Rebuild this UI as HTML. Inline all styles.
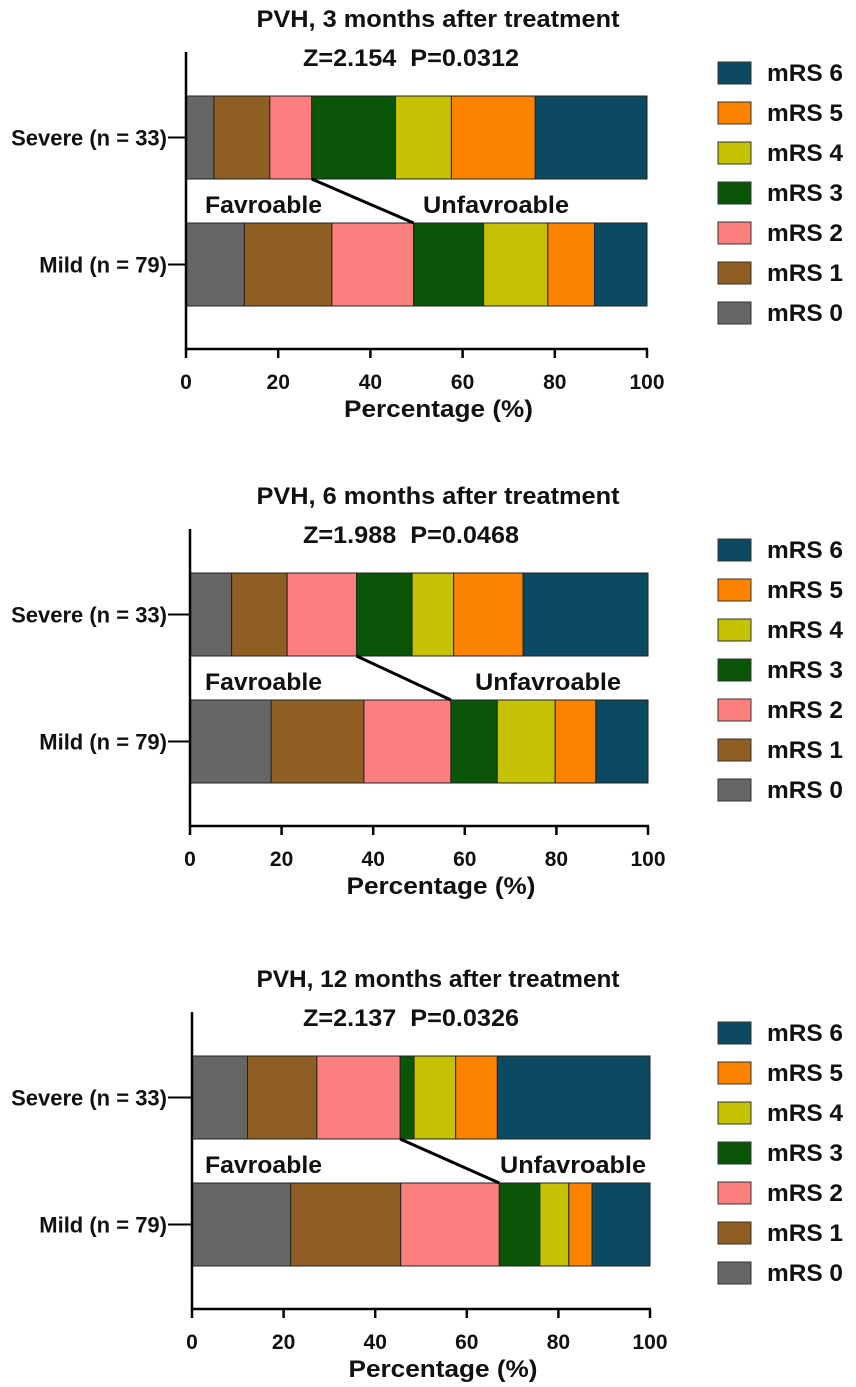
<!DOCTYPE html>
<html><head><meta charset="utf-8"><style>
html,body{margin:0;padding:0;background:#fff;}
svg{display:block;font-family:"Liberation Sans",Arial,sans-serif;font-weight:bold;}
</style></head><body>
<svg id="chart" width="856" height="1387" viewBox="0 0 856 1387" xmlns="http://www.w3.org/2000/svg"></svg>
<script>
const panelTitles = ["PVH, 3 months after treatment","PVH, 6 months after treatment","PVH, 12 months after treatment"];
const panelStats = ["Z=2.154\u00a0\u00a0P=0.0312","Z=1.988\u00a0\u00a0P=0.0468","Z=2.137\u00a0\u00a0P=0.0326"];
const groups = ["Severe (n = 33)","Mild (n = 79)"];
const mrsLabels = ["mRS 0","mRS 1","mRS 2","mRS 3","mRS 4","mRS 5","mRS 6"];
const severe3 = [2,4,3,6,4,6,8];
const mild3 = [10,15,14,12,11,8,9];
const severe6 = [3,4,5,4,3,5,9];
const mild6 = [14,16,15,8,10,7,9];
const severe12 = [4,5,6,1,3,3,11];
const mild12 = [17,19,17,7,5,4,10];
const ticks = [0,20,40,60,80,100];
const colors = ["#666666","#8f5e22","#fb7f7f","#0a5508","#c4c202","#fb8300","#0b4a60"];

const svg = document.getElementById('chart');
const NS = "http://www.w3.org/2000/svg";
function mk(tag, attrs, parent){const e=document.createElementNS(NS,tag);for(const k in attrs)e.setAttribute(k,attrs[k]);(parent||svg).appendChild(e);return e;}
function txt(s, attrs, parent){const e=mk('text',attrs,parent);e.textContent=s;return e;}

const layouts = [
 {dy:0, x0:186, x1:647},
 {dy:477, x0:190, x1:648},
 {dy:960, x0:192, x1:650}
];
const series = [[severe3,mild3],[severe6,mild6],[severe12,mild12]];

layouts.forEach((L,pi)=>{
  const g = mk('g',{});
  
  
  const dy=L.dy;
  const xs = v => L.x0 + (L.x1-L.x0)*v/100;
  const t1=txt(panelTitles[pi],{x:438,y:27+dy,'font-size':24,'text-anchor':'middle',fill:'#111',textLength:363,lengthAdjust:'spacingAndGlyphs'},g);
  
  
  const t2=txt(panelStats[pi],{x:411,y:66+dy,'font-size':24,'text-anchor':'middle',fill:'#111',textLength:216,lengthAdjust:'spacingAndGlyphs'},g);
  
  
  const barY=[96+dy,223+dy], barH=83;
  const bounds=[];
  series[pi].forEach((vals,gi)=>{
    const total=vals.reduce((a,b)=>a+b,0);
    let cum=0;
    vals.forEach((v,ci)=>{
      const p0=cum/total*100; cum+=v; const p1=cum/total*100;
      const r=mk('rect',{x:xs(p0),y:barY[gi],width:xs(p1)-xs(p0),height:barH,fill:colors[ci],stroke:'#222','stroke-width':1},g);
      
      
      if(ci===2) bounds[gi]=p1;
    });
    const lab=txt(groups[gi],{x:167,y:barY[gi]+barH/2+8,'font-size':22,'text-anchor':'end',fill:'#111'},g);
    
    
    mk('line',{x1:168,x2:L.x0,y1:barY[gi]+barH/2,y2:barY[gi]+barH/2,stroke:'#000','stroke-width':2},g);
  });
  const cl=mk('line',{x1:xs(bounds[0]),y1:barY[0]+barH,x2:xs(bounds[1]),y2:barY[1],stroke:'#000','stroke-width':3},g);
  
  
  const f=txt('Favroable',{x:205,y:213+dy,'font-size':24,fill:'#111',textLength:117,lengthAdjust:'spacingAndGlyphs'},g);
  
  
  const u=txt('Unfavroable',{x:pi===0?423:(pi===1?475:500),y:213+dy,'font-size':24,fill:'#111',textLength:146,lengthAdjust:'spacingAndGlyphs'},g);
  
  
  const ya=mk('line',{x1:L.x0,x2:L.x0,y1:52+dy,y2:350+dy,stroke:'#000','stroke-width':2.5},g);
  
  
  const xa=mk('line',{x1:L.x0,x2:L.x1+1,y1:349+dy,y2:349+dy,stroke:'#000','stroke-width':2.5},g);
  
  
  ticks.forEach(t=>{
    mk('line',{x1:xs(t),x2:xs(t),y1:349+dy,y2:358+dy,stroke:'#000','stroke-width':2.5},g);
    const tl=txt(String(t),{x:xs(t),y:389+dy,'font-size':21,'text-anchor':'middle',fill:'#111'},g);
    
    
  });
  const xt=txt('Percentage (%)',{x:(L.x0+L.x1)/2+22,y:417+dy,'font-size':24,'text-anchor':'middle',fill:'#111',textLength:189,lengthAdjust:'spacingAndGlyphs'},g);
  
  
  for(let i=6;i>=0;i--){
    const row=6-i;
    const cy=73+row*40+dy;
    const lg=mk('g',{},g);
    
    
    mk('rect',{x:718,y:cy-11,width:33,height:22,fill:colors[i],stroke:'#333','stroke-width':1},lg);
    txt(mrsLabels[i],{x:767,y:cy+8,'font-size':24,fill:'#111',textLength:76,lengthAdjust:'spacingAndGlyphs'},lg);
  }
});
</script>
</body></html>
